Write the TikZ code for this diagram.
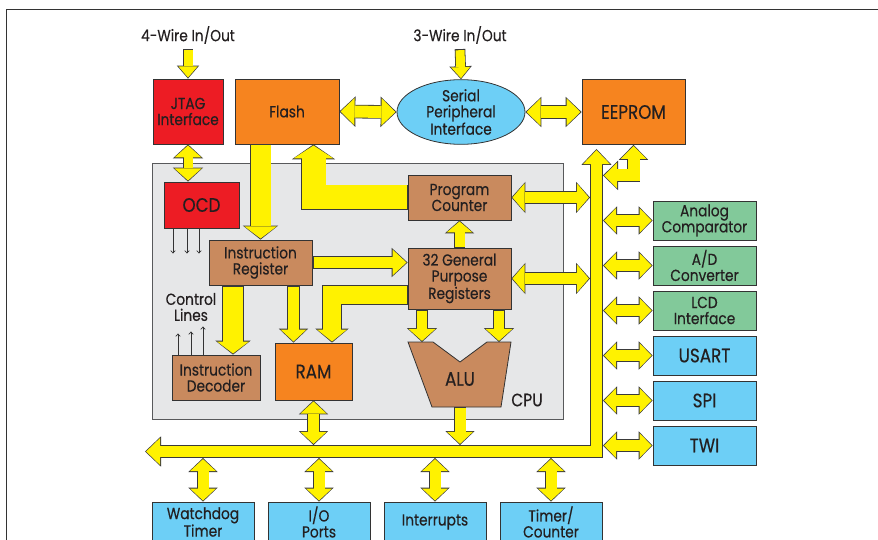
\documentclass[tikz,border=0pt]{standalone}
\usepackage{fontspec}
\setmainfont{Poppins}[FakeStretch=0.86, FakeBold=0.4]
\usetikzlibrary{arrows.meta,shapes.geometric}

\definecolor{busyellow}{HTML}{FFF200}
\definecolor{edgegray}{HTML}{3A3A3A}
\definecolor{boxline}{HTML}{333333}
\definecolor{txtcolor}{HTML}{231F20}
\definecolor{jtagred}{HTML}{ED1C24}
\definecolor{memorange}{HTML}{F6841F}
\definecolor{regbrown}{HTML}{C98A5E}
\definecolor{portblue}{HTML}{6DCFF6}
\definecolor{anagreen}{HTML}{82C99A}
\definecolor{cpugray}{HTML}{E6E7E8}
\definecolor{cpuline}{HTML}{58595B}

\newcommand{\normtxt}{\fontsize{16}{16}\selectfont}
\newcommand{\largetxt}{\fontsize{19.5}{20}\selectfont}

% yellow block arrow: tips, shaft, head width, head length, path
\newcommand{\busarrow}[5]{%
	\pgfmathsetlengthmacro{\arrowout}{#2+1.6pt}%
	\pgfmathsetlengthmacro{\headout}{#3+3.4pt}%
	\pgfmathsetlengthmacro{\lenout}{#4+2pt}%
	\draw[draw=edgegray, line width=\arrowout, >={Triangle[width=\headout, length=\lenout, line width=0pt]}, #1] #5;
	\draw[draw=busyellow, line width=#2, >={Triangle[width=#3, length=#4, line width=0pt]}, shorten >=1.1pt, shorten <=1.1pt, #1] #5;
}

\begin{document}
\begin{tikzpicture}[x=1pt, y=-1pt,
	box/.style={draw=boxline, line width=0.8pt, inner sep=0pt, align=center, text=txtcolor, font=\normtxt},
	sig/.style={draw=boxline, line width=0.7pt, -{To[length=3pt, width=5pt]}}]
	\useasboundingbox (0,0) rectangle (878,540);
	\clip (0,0) rectangle (878,540);
	\draw[line width=1pt, draw=boxline] (6,545) -- (6,10) -- (880,10);

	% top row
	\node[text=txtcolor, font=\normtxt, inner sep=5pt] (wire4) at (188,35) {4-Wire In/Out};
	\node[text=txtcolor, font=\normtxt, inner sep=5pt] (wire3) at (460,35) {3-Wire In/Out};
	\node[box, fill=jtagred, minimum width=70pt, minimum height=65pt] (jtag) at (188,111.5) {JTAG\\Interface};
	\node[box, fill=memorange, minimum width=104pt, minimum height=65pt] (flash) at (287,111.5) {Flash};
	\node[box, ellipse, fill=portblue, minimum width=128pt, minimum height=64pt] (spi) at (461,112) {Serial\\Peripheral\\Interface};
	\node[box, fill=memorange, minimum width=103pt, minimum height=65pt] (eeprom) at (633.5,112) {\largetxt EEPROM};

	% CPU
	\node[draw=cpuline, fill=cpugray, line width=0.8pt, minimum width=411pt, minimum height=256pt] (cpu) at (357.5,291) {};
	\node[text=txtcolor, font=\fontsize{18}{18}\selectfont] (cpulbl) at (527,400) {CPU};
	\node[box, fill=jtagred, minimum width=75pt, minimum height=46pt, font=\largetxt] (ocd) at (201.5,205) {OCD};
	\node[box, fill=regbrown, minimum width=103pt, minimum height=45pt] (ir) at (260.5,262.5) {Instruction\\Register};
	\node[box, fill=regbrown, minimum width=103pt, minimum height=45pt] (pc) at (459.5,197.5) {Program\\Counter};
	\node[box, fill=regbrown, minimum width=103pt, minimum height=61pt] (gpr) at (459.5,278.5) {32 General\\Purpose\\Registers};
	\node[box, fill=regbrown, minimum width=88pt, minimum height=45pt] (idec) at (216,377.5) {Instruction\\Decoder};
	\node[box, fill=memorange, minimum width=77pt, minimum height=57pt, font=\largetxt] (ram) at (313.5,371.5) {RAM};
	\node[text=txtcolor, font=\normtxt, align=center] (ctrl) at (191,307) {Control\\Lines};
	\draw[draw=boxline, line width=0.8pt, fill=regbrown] (408,342) -- (433,342) -- (460,362) -- (487,342) -- (511,342) -- (501,407) -- (432,407) -- cycle;
	\node[text=txtcolor, font=\largetxt] (alu) at (460,379) {ALU};
	\coordinate (alul) at (422,342);
	\coordinate (alur) at (499,342);
	\coordinate (alub) at (460,407);

	% peripherals
	\node[box, fill=anagreen, minimum width=103pt, minimum height=39pt] (acomp) at (704.5,220.5) {Analog\\Comparator};
	\node[box, fill=anagreen, minimum width=103pt, minimum height=39pt] (adc) at (704.5,265.5) {A/D\\Converter};
	\node[box, fill=anagreen, minimum width=103pt, minimum height=39pt] (lcd) at (704.5,310.5) {LCD\\Interface};
	\node[box, fill=portblue, minimum width=103pt, minimum height=39pt, font=\largetxt] (usart) at (704.5,355.5) {USART};
	\node[box, fill=portblue, minimum width=103pt, minimum height=39pt, font=\largetxt] (spiport) at (704.5,400.5) {SPI};
	\node[box, fill=portblue, minimum width=103pt, minimum height=39pt, font=\largetxt] (twi) at (704.5,445.5) {TWI};
	\node[box, fill=portblue, minimum width=102pt, minimum height=40pt] (wdt) at (203,522) {Watchdog\\Timer};
	\node[box, fill=portblue, minimum width=102pt, minimum height=40pt] (io) at (319,522) {I/O\\Ports};
	\node[box, fill=portblue, minimum width=102pt, minimum height=40pt] (intr) at (435,522) {Interrupts};
	\node[box, fill=portblue, minimum width=102pt, minimum height=40pt] (tmr) at (551,522) {Timer/\\Counter};

	% data bus
	\coordinate (busl) at (145,451.5);
	\coordinate (busc) at (596.5,451.5);
	\coordinate (bust) at (596.5,149);
	\coordinate (busn) at (0,445);
	\coordinate (buss) at (0,458);
	\coordinate (busw) at (590,0);
	\coordinate (buse) at (603,0);
	\busarrow{<->}{11.5pt}{27pt}{14pt}{(busl) -- (busc) -- (bust)}
	\coordinate (eebend) at ([yshift=-30.5pt]eeprom.south);
	\busarrow{<->}{12pt}{26pt}{13pt}{(eeprom.south) |- (eebend -| buse)}

	% connectors
	\busarrow{->}{9pt}{19pt}{11pt}{(wire4.south) -- (jtag.north)}
	\busarrow{->}{9pt}{19pt}{11pt}{(wire3.south) -- (spi.north)}
	\busarrow{<->}{12pt}{27pt}{14pt}{(flash.east) -- (spi.west)}
	\busarrow{<->}{12pt}{27pt}{14pt}{(spi.east) -- (eeprom.west)}
	\busarrow{<->}{9pt}{27pt}{12pt}{(jtag.south) -- (jtag.south |- ocd.north)}
	\busarrow{->}{20pt}{32pt}{12pt}{(ir.north |- flash.south) -- (ir.north)}
	\busarrow{->}{24pt}{40pt}{13pt}{(pc.west) -| ([xshift=26.5pt]flash.south)}
	\busarrow{->}{10.5pt}{26pt}{14pt}{(ir.east) -- (ir.east -| gpr.west)}
	\busarrow{->}{10pt}{26pt}{11pt}{(gpr.north) -- (pc.south)}
	\busarrow{->}{20pt}{32pt}{12pt}{([xshift=17pt]idec.north |- ir.south) -- ([xshift=17pt]idec.north)}
	\busarrow{->}{11pt}{26pt}{12pt}{([xshift=-20pt]ram.north |- ir.south) -- ([xshift=-20pt]ram.north)}
	\busarrow{->}{18pt}{30pt}{12pt}{([yshift=-16.5pt]gpr.west) -| ([xshift=18.5pt]ram.north)}
	\busarrow{->}{10.5pt}{27pt}{12pt}{(alul |- gpr.south) -- (alul)}
	\busarrow{->}{10.5pt}{27pt}{12pt}{(alur |- gpr.south) -- (alur)}
	\busarrow{->}{11pt}{26pt}{12pt}{(alub) -- (alub |- busn)}
	\busarrow{<->}{11pt}{26pt}{12pt}{(ram.south) -- (ram.south |- busn)}
	\busarrow{<->}{11pt}{28pt}{12pt}{(pc.east) -- (pc.east -| busw)}
	\busarrow{<->}{11pt}{28pt}{12pt}{(gpr.east) -- (gpr.east -| busw)}
	\foreach \dev in {acomp, adc, lcd, usart, spiport, twi}
		{\busarrow{<->}{11pt}{25pt}{12pt}{(\dev.west -| buse) -- (\dev.west)}}
	\foreach \dev in {wdt, io, intr, tmr}
		{\busarrow{<->}{11pt}{26pt}{12pt}{(\dev.north |- buss) -- (\dev.north)}}

	% control signals
	\foreach \dx in {-28.5, -14.5, -2.5}
		\draw[sig] ([xshift=\dx pt]ocd.south) -- ++(0,25);
	\draw[sig] ([xshift=-38pt]idec.north) -- ++(0,-21);
	\draw[sig] ([xshift=-25pt]idec.north) -- ++(0,-23);
	\draw[sig] ([xshift=-13pt]idec.north) -- ++(0,-28);
\end{tikzpicture}
\end{document}
